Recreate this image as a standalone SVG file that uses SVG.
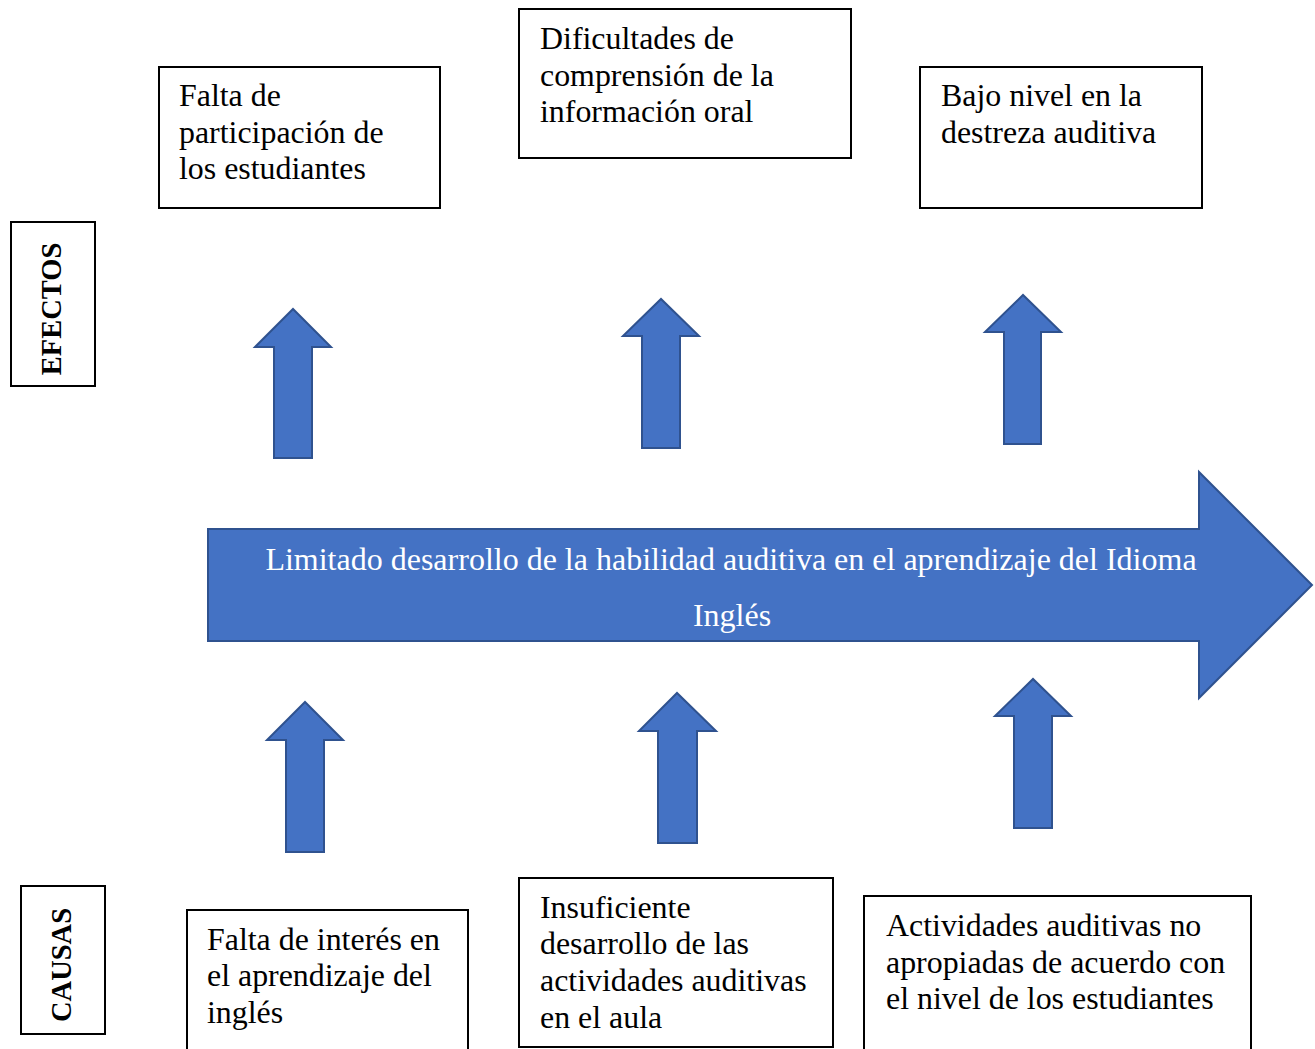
<svg xmlns="http://www.w3.org/2000/svg" width="1315" height="1049" viewBox="0 0 1315 1049">
<style>
.box{fill:#fff;stroke:#000;stroke-width:2}
.t{font-family:"Liberation Serif","Times New Roman",serif;font-size:31.9px;fill:#000}
.lbl{font-family:"Liberation Serif","Times New Roman",serif;font-size:28.5px;font-weight:bold;fill:#000}
.arr{fill:#4472C4;stroke:#2F528F;stroke-width:2;stroke-linejoin:miter}
.main{font-family:"Liberation Serif","Times New Roman",serif;font-size:32px;fill:#fff;text-anchor:middle}
</style>
<rect width="1315" height="1049" fill="#fff"/>
<g id="connectors">
<path class="arr" d="M208,529 H1199 V472 L1312,585 L1199,698 V641 H208 Z"/>
<path class="arr" d="M274,458 V347 H255 L293,309 L331,347 H312 V458 Z"/>
<path class="arr" d="M642,448 V336 H623 L661,299 L699,336 H680 V448 Z"/>
<path class="arr" d="M1004,444 V332 H985 L1023,295 L1061,332 H1041 V444 Z"/>
<path class="arr" d="M286,852 V740 H267 L305,702 L343,740 H324 V852 Z"/>
<path class="arr" d="M658,843 V731 H639 L677,693 L716,731 H697 V843 Z"/>
<path class="arr" d="M1014,828 V716 H995 L1033,679 L1071,716 H1052 V828 Z"/>
</g>
<g id="main-label">
<text class="main" x="731" y="570">Limitado desarrollo de la habilidad auditiva en el aprendizaje del Idioma</text>
<text class="main" x="732" y="626">Inglés</text>
</g>
<g id="efectos">
<rect class="box" x="11" y="222" width="84" height="164"/>
<text class="lbl" transform="translate(61,309) rotate(-90)" text-anchor="middle">EFECTOS</text>
</g>
<g id="causas">
<rect class="box" x="21" y="886" width="84" height="148"/>
<text class="lbl" transform="translate(71,965) rotate(-90)" text-anchor="middle">CAUSAS</text>
</g>
<g id="efecto1">
<rect class="box" x="159" y="67" width="281" height="141"/>
<text class="t" x="179" y="106">Falta de</text>
<text class="t" x="179" y="143">participación de</text>
<text class="t" x="179" y="179">los estudiantes</text>
</g>
<g id="efecto2">
<rect class="box" x="519" y="9" width="332" height="149"/>
<text class="t" x="540" y="49">Dificultades de</text>
<text class="t" x="540" y="86">comprensión de la</text>
<text class="t" x="540" y="122">información oral</text>
</g>
<g id="efecto3">
<rect class="box" x="920" y="67" width="282" height="141"/>
<text class="t" x="941" y="106">Bajo nivel en la</text>
<text class="t" x="941" y="143">destreza auditiva</text>
</g>
<g id="causa1">
<rect class="box" x="187" y="910" width="281" height="150"/>
<text class="t" x="207" y="950">Falta de interés en</text>
<text class="t" x="207" y="986">el aprendizaje del</text>
<text class="t" x="207" y="1023">inglés</text>
</g>
<g id="causa2">
<rect class="box" x="519" y="878" width="314" height="169"/>
<text class="t" x="540" y="918">Insuficiente</text>
<text class="t" x="540" y="954">desarrollo de las</text>
<text class="t" x="540" y="991">actividades auditivas</text>
<text class="t" x="540" y="1028">en el aula</text>
</g>
<g id="causa3">
<rect class="box" x="864" y="896" width="387" height="170"/>
<text class="t" x="886" y="936">Actividades auditivas no</text>
<text class="t" x="886" y="973">apropiadas de acuerdo con</text>
<text class="t" x="886" y="1009">el nivel de los estudiantes</text>
</g>
</svg>
